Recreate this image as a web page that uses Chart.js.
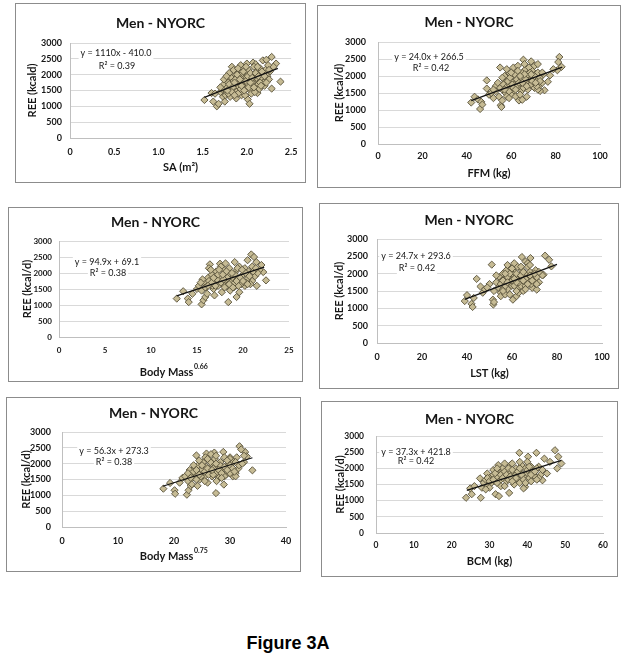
<!DOCTYPE html>
<html>
<head>
<meta charset="utf-8">
<script src="https://cdn.jsdelivr.net/npm/chart.js@4.4.1/dist/chart.umd.min.js"></script>
<style>
  body { margin: 0; background: #fff; width: 624px; height: 659px; position: relative; overflow: hidden; }
  canvas { position: absolute; }
  #fig { position: absolute; left: 0; width: 576px; top: 633px; line-height: 20px; text-align: center;
         font: bold 18px "Liberation Sans", Arial, sans-serif; color: #000; }
</style>
</head>
<body>
<canvas id="c1"></canvas>
<canvas id="c2"></canvas>
<canvas id="c3"></canvas>
<canvas id="c4"></canvas>
<canvas id="c5"></canvas>
<canvas id="c6"></canvas>
<div id="fig">Figure 3A</div>
<script>
// values: [x, REE]
const saPts = [[1.52,1200],[1.60,1420],[1.62,1150],[1.66,1000],[1.68,1080],[1.64,1400],[1.70,1450],[1.73,1300],[1.75,1150],[1.76,1620],
  [1.78,1850],[1.80,2050],[1.83,2250],[1.93,2300],[2.01,1220],[2.03,1080],[2.07,2380],[2.10,2330],[2.18,2450],[2.22,2470],
  [2.28,2560],[2.33,2350],[2.38,1780],[2.28,1560],[2.26,2100],[2.30,2250],[2.12,1420],[2.20,1650],[2.17,1800],
  [1.72,1550],[1.74,1700],[1.77,1450],[1.78,1600],[1.79,1750],[1.80,1500],[1.82,1650],[1.83,1900],[1.84,1400],[1.85,1800],
  [1.86,1550],[1.87,2000],[1.88,1700],[1.89,1480],[1.90,1850],[1.91,1600],[1.92,2100],[1.93,1750],[1.94,1350],[1.95,1950],
  [1.96,1650],[1.97,1800],[1.98,2050],[1.99,1550],[2.00,1900],[2.01,1700],[2.02,2150],[2.03,1850],[2.04,1500],[2.05,2000],
  [2.06,1650],[2.07,1800],[2.08,2250],[2.09,1950],[2.10,1600],[2.11,2100],[2.12,1850],[2.13,1700],[2.14,2000],[2.15,2200],
  [2.16,1900],[2.18,2050],[2.19,1750],[2.21,2150],[2.23,1950],[2.24,2300],[2.25,1850],[1.76,1350],[1.81,1300],[1.88,1250],
  [1.95,1450],[1.98,1350],[2.05,1400],[1.70,1600],[1.85,2150],[1.90,2200],[1.97,2200],[2.00,2350],[1.93,1550],[1.87,1850],
  [1.82,1550],[1.91,1950],[2.06,1750],[2.14,1550],[2.09,1450],[2.02,1600],[1.79,1400],[1.95,2050],[2.11,1900],
  [1.74,1850],[1.77,1950],[1.80,1700],[1.84,1600],[1.86,1750],[1.89,2000],[1.92,1850],[1.94,1650],[1.96,2100],[1.99,1800],
  [2.01,1950],[2.04,2050],[2.06,1900],[2.08,1600],[2.10,2050],[2.13,1950],[2.15,1750],[2.17,2100],[2.20,1950],[2.22,1750],
  [2.25,2150],[1.83,1450],[1.90,1400],[1.99,2250],[2.04,1750],[1.86,1350],[2.12,2250],[1.78,1500],[1.97,1500],[2.16,1650]];

const ffmPts = [[42,1220],[43.5,1390],[45,1310],[46,1030],[46.5,1240],[47,1160],[49,1870],[49,1630],[50,1450],[51,1500],
  [52,1350],[53,1700],[55,2250],[54.5,1390],[55.3,1140],[55.6,1090],[56,1280],[65.5,2480],[69,2430],[63.5,1280],
  [67,1390],[75,1580],[73,1560],[77.5,2020],[76.5,1830],[81.7,2560],[81.2,2410],[82.7,2270],[80.8,2170],[79,2200],
  [70.5,2300],[72,2350],[56,1600],[57,1800],[57.5,1500],[58,1950],[58.5,1700],[59,2100],[59.5,1600],[60,1850],
  [60.5,2000],[61,1550],[61.5,1750],[62,2150],[62.5,1900],[63,1650],[63.5,2050],[64,1800],[64.5,1550],[65,2100],
  [65.5,1950],[66,1700],[66.5,2200],[67,1850],[67.5,1600],[68,2050],[68.5,1900],[69,1750],[69.5,2150],[70,1950],
  [70.5,1650],[71,2050],[71.5,1850],[72,2100],[72.5,1700],[73,1950],[74,1800],[74.5,2050],[60,1450],[58,1400],
  [62,1400],[64,1450],[57,2000],[61,2250],[63,2300],[66,2350],[68,2250],[59,1350],[65,1300],[53,1550],
  [54,1800],[56,1950],[58,2200],[60,1650],[67,2000],[70,1850],[72,1600],[55,1650],[52,1600],
  [56.5,1750],[57.5,1650],[58.5,1850],[59.5,1950],[60.5,1750],[61.5,2050],[62.5,1700],[63.5,1800],[64.5,1950],[65.5,1650],
  [66.5,1900],[67.5,2050],[68.5,2100],[69.5,1850],[70.5,2000],[71.5,1700],[73,1850],[74,2100],[59,1550],[61,1650],
  [63,2150],[65,1800],[67,1700],[69,2050],[71,1800],[57,1600],[60,2100],[66,2050],[62,1600],[64,2000]];

const bm66Pts = [[12.8,1200],[13.5,1430],[14,1200],[14.1,1090],[14.5,1350],[15,1500],[15.5,1020],[15.7,1150],[15.9,1250],[16.4,2270],
  [16.3,2150],[17.5,2290],[18.4,1090],[19.1,2340],[19.3,1250],[19.6,1400],[20.9,2580],[21.2,2500],[21.45,2340],[22.5,1770],
  [22.2,2030],[22,2250],[21.8,2100],[20.5,2400],[20.2,1600],[21,1750],[15.2,1600],[15.5,1450],[15.8,1700],[16,1550],
  [16.2,1850],[16.4,1650],[16.6,1950],[16.8,1500],[17,1750],[17.1,2050],[17.3,1600],[17.5,1900],[17.7,1400],[17.9,2100],
  [18,1750],[18.2,1600],[18.4,1950],[18.5,2150],[18.7,1700],[18.9,1850],[19,1550],[19.2,2050],[19.4,1800],[19.6,2200],
  [19.8,1650],[20,1950],[20.2,2150],[20.4,1800],[20.6,2050],[20.8,1650],[21,2200],[21.3,1900],[21.6,2000],[16.1,1350],
  [16.9,1300],[17.6,2200],[18.1,2300],[17.2,1800],[15.6,1800],[16.5,2100],[18.6,1450],[19.5,1600],[20.3,1700],[17.8,1650],
  [19.1,1950],[21.5,1600],[16.7,1600],[18.3,1850],
  [15.4,1700],[15.9,1550],[16.3,1750],[16.6,1700],[17,1600],[17.3,1950],[17.6,1700],[17.9,1800],[18.2,2050],[18.5,1650],
  [18.8,2000],[19.1,1700],[19.4,2150],[19.7,1850],[20,1750],[20.3,2000],[20.7,1900],[21.1,2050],[16.8,1850],[17.4,2100],
  [18,1550],[18.9,1550],[19.9,2100],[20.5,1650],[16.2,1600],[17.8,1950],[19.3,1750],[21.4,2150]];

const lstPts = [[39,1210],[40,1380],[42,1130],[42.5,1040],[43,1300],[44.3,1850],[46,1630],[47,1450],[48,1550],[51,2260],
  [51.7,1110],[51.5,1250],[52,1180],[64.4,2480],[68.2,2450],[60.4,1250],[62,1350],[69,1590],[71,1540],[74,1970],
  [74.7,2520],[76.5,2400],[77.5,2210],[73.5,1950],[66,2350],[67,2300],[50,1700],[52,1500],[53,1750],[54,1600],
  [54.5,1900],[55,1450],[55.5,1800],[56,2000],[56.5,1650],[57,1850],[57.5,2100],[58,1550],[58.5,1950],[59,1750],
  [59.5,2150],[60,1650],[60.5,1900],[61,2050],[61.5,1700],[62,1850],[62.5,2200],[63,1600],[63.5,1950],[64,1800],
  [64.5,2100],[65,1700],[65.5,1900],[66,2000],[66.5,1750],[67,2200],[67.5,1850],[68,2050],[68.5,1700],[69,1950],
  [70,1800],[70.5,2100],[71,1900],[72,1750],[55,1350],[57,1400],[59,1400],[53,1950],[58,2250],[61,2300],
  [63,1450],[65,1500],[49,1600],[56,1550],[60,2000],[64,1650],[62,1500],[66,1650],
  [55,1700],[56,1800],[57,1650],[58,1900],[59,2000],[60,1800],[61,1650],[62,2000],[63,1750],[64,1950],
  [65,2050],[66,1850],[67,1700],[68,1950],[69,1800],[70,2000],[71,1700],[72,2050],[56,1500],[58,1750],
  [60,2150],[62,1750],[64,2200],[66,1550],[68,2250],[57,2000],[61,1850],[65,1800]];

const bm75Pts = [[18.1,1210],[19.3,1390],[20.1,1160],[20.2,1050],[21,1400],[21.5,1550],[22.3,1020],[22.6,1160],[23,1300],[24,2260],
  [25.8,2320],[27.2,2350],[27.5,1070],[28.9,1340],[28.8,2370],[31.7,2550],[32.7,2370],[34,1790],[33,2230],[32.5,2050],
  [31.5,1850],[30.5,1600],[32,2450],[30,2200],[22,1600],[22.5,1450],[23,1700],[23.3,1550],[23.6,1850],[24,1650],
  [24.3,1950],[24.6,1500],[25,1750],[25.2,2050],[25.5,1600],[25.8,1900],[26,1400],[26.3,2100],[26.5,1750],[26.8,1600],
  [27,1950],[27.3,2150],[27.5,1700],[27.8,1850],[28,1550],[28.3,2050],[28.6,1800],[29,2200],[29.3,1650],[29.6,1950],
  [30,2150],[30.3,1800],[30.6,2050],[31,1700],[31.2,2200],[31.6,1950],[32.2,2000],[23.2,1350],[24.2,1300],[25.6,2200],
  [26.6,2300],[25,1800],[22.8,1800],[24.5,2100],[27.6,1450],[29,1600],[30,1700],[26.2,1650],[28.2,1950],[31,1600],
  [24.8,1600],[27,1850],
  [22.5,1700],[23,1550],[23.5,1750],[24,1800],[24.5,1650],[25,1950],[25.5,1750],[26,1850],[26.5,2050],[27,1650],
  [27.5,2000],[28,1800],[28.5,1700],[29,1900],[29.5,2100],[30,1950],[30.5,1850],[31,2050],[24,1500],[25.5,1450],
  [26,2150],[27.5,2250],[28.5,1550],[29.5,1800],[23.5,1950],[26.8,1800],[30.8,1750],[32.5,2250]];

const bcmPts = [[23.8,1090],[24.9,1380],[25.3,1200],[26,1450],[27.7,1090],[27.5,1690],[28,1400],[29.4,1840],[32.3,2100],[31.6,1200],
  [32.5,1140],[35.2,1240],[37.9,2480],[39.4,1430],[39,1380],[40.2,2360],[42.4,2480],[44,1630],[45.2,1840],[47.3,2560],
  [48.2,2360],[49,2150],[47.9,2000],[46,2200],[44.5,2300],[43,2050],[28.5,1550],[29,1650],[29.5,1450],[30,1700],
  [30.5,1550],[31,1800],[31.5,1600],[32,1750],[32.5,1900],[33,1650],[33.5,2000],[34,1750],[34.5,1600],[35,1900],
  [35.5,2100],[36,1700],[36.5,1850],[37,2000],[37.5,1650],[38,1900],[38.5,2100],[39,1750],[39.5,2000],[40,1850],
  [40.5,1700],[41,2050],[41.5,1900],[42,1750],[42.5,2000],[43.5,1800],[34,2150],[36,2150],[30,1400],[33,1450],
  [36.5,1500],[38,1550],[41,1600],[37,1800],[33,1850],[35,1650],[40,2200],[31,1950],[44,1950],[29,1350],
  [29.5,1700],[30,1600],[31,1650],[31.5,1850],[32,1550],[33,1800],[33.5,1700],[34,1900],[34.5,1800],[35,2000],
  [35.5,1750],[36,1950],[37,1700],[37.5,1900],[38,2000],[38.5,1800],[39,1650],[40,1950],[40.5,2050],[41,1800],
  [42,1900],[43,1700],[34,1450],[36,1600],[38,2200],[32,2000],[39.5,1550],[42.5,1650]];

// trend line end points as drawn
const saTrend = [[1.52,1280],[2.35,2200]];
const ffmTrend = [[42,1274],[83,2258]];
const bm66Trend = [[12.8,1284],[22.3,2185]];
const lstTrend = [[39,1257],[80,2270]];
const bm75Trend = [[18,1287],[34,2187]];
const bcmTrend = [[24,1317],[49,2249]];

const equations = [
  ['y = 1110x - 410.0', 'R² = 0.39'],
  ['y = 24.0x + 266.5', 'R² = 0.42'],
  ['y = 94.9x + 69.1', 'R² = 0.38'],
  ['y = 24.7x + 293.6', 'R² = 0.42'],
  ['y = 56.3x + 273.3', 'R² = 0.38'],
  ['y = 37.3x + 421.8', 'R² = 0.42']
];
const xTitles = [['SA (m²)', ''], ['FFM (kg)', ''], ['Body Mass', '0.66'], ['LST (kg)', ''], ['Body Mass', '0.75'], ['BCM (kg)', '']];
const yTitles = ['REE (kcald)', 'REE (kcal/d)', 'REE (kcal/d)', 'REE (kcal/d)', 'REE (kcal/d)', 'REE (kcal/d)'];
const xMax = [2.5, 100, 25, 100, 40, 60];
const xStep = [0.5, 20, 5, 20, 10, 10];
const yTicks = [0, 500, 1000, 1500, 2000, 2500, 3000];

const allPts = [saPts, ffmPts, bm66Pts, lstPts, bm75Pts, bcmPts];
const allTrends = [saTrend, ffmTrend, bm66Trend, lstTrend, bm75Trend, bcmTrend];

// panel boxes and inner geometry (pixels)
const boxes = [
  {left: 15, top: 3, w: 291, h: 180, plot: [55, 40, 278, 135], titleY: 20, yTitleX: 17, xTickY: 149, xTitleY: 164, yPad: 8, tickFs: 9, eqPos: [[46, 10], [47, 23]]},
  {left: 317, top: 5, w: 304, h: 183, plot: [61, 37, 283, 139], titleY: 17, yTitleX: 22, xTickY: 151, xTitleY: 168, yPad: 12, tickFs: 9, eqPos: [[51, 15], [53, 26]]},
  {left: 8, top: 207, w: 295, h: 175, plot: [51, 34, 281, 130], titleY: 15, yTitleX: 19, xTickY: 143, xTitleY: 165, yPad: 7, tickFs: 8, eqPos: [[48, 21], [49, 32]]},
  {left: 319, top: 203, w: 300, h: 186, plot: [58, 36, 283, 140], titleY: 17, yTitleX: 20, xTickY: 154, xTitleY: 170, yPad: 9, tickFs: 9, eqPos: [[39, 17], [40, 29]]},
  {left: 6, top: 397, w: 295, h: 175, plot: [56, 35, 280, 130], titleY: 16, yTitleX: 20, xTickY: 144, xTitleY: 159, yPad: 11, tickFs: 9, eqPos: [[52, 19], [52, 30]]},
  {left: 321, top: 401, w: 297, h: 176, plot: [55, 35, 282, 132], titleY: 18, yTitleX: 19, xTickY: 144, xTitleY: 160, yPad: 12, tickFs: 8.5, eqPos: [[40, 16], [40, 25]]}
];

const FONT = 'Lato, "Open Sans", sans-serif';
const TEXT = '#161616';

const panelDeco = {
  id: 'panelDeco',
  beforeDraw(chart) {
    const ctx = chart.ctx;
    ctx.save();
    ctx.fillStyle = '#fff';
    ctx.fillRect(0, 0, chart.width, chart.height);
    ctx.restore();
  },
  afterDraw(chart, args, o) {
    const {ctx, chartArea} = chart;
    ctx.save();
    ctx.fillStyle = TEXT;
    ctx.textBaseline = 'middle';
    // panel title, centred on the frame
    ctx.textAlign = 'center';
    ctx.font = 'bold 14px ' + FONT;
    ctx.fillText('Men - NYORC', chart.width / 2, o.titleY);
    // regression equation
    ctx.font = '9px ' + FONT;
    o.eq.forEach(function(line, i) {
      const x = chartArea.left + o.eqPos[i][0];
      const y = chartArea.top + o.eqPos[i][1];
      const w = ctx.measureText(line).width;
      ctx.fillStyle = '#fff';
      ctx.fillRect(x - w / 2 - 2, y - 6, w + 4, 12);
      ctx.fillStyle = TEXT;
      ctx.fillText(line, x, y);
    });
    // x title with superscript
    if (o.sup) {
      ctx.textAlign = 'left';
      ctx.font = 'bold 11px ' + FONT;
      const w1 = ctx.measureText(o.xTitle).width;
      ctx.font = 'bold 7px ' + FONT;
      const w2 = ctx.measureText(o.sup).width;
      const x0 = (chartArea.left + chartArea.right) / 2 - (w1 + w2 + 1) / 2;
      ctx.font = 'bold 11px ' + FONT;
      ctx.fillText(o.xTitle, x0, o.xTitleY);
      ctx.font = 'bold 7px ' + FONT;
      ctx.fillText(o.sup, x0 + w1 + 0.5, o.xTitleY - 5);
    }
    // panel frame
    ctx.strokeStyle = '#8c8c8c';
    ctx.lineWidth = 1;
    ctx.strokeRect(0.5, 0.5, chart.width - 1, chart.height - 1);
    ctx.restore();
  }
};

boxes.forEach(function(b, i) {
  const cv = document.getElementById('c' + (i + 1));
  cv.width = b.w;
  cv.height = b.h;
  cv.style.left = b.left + 'px';
  cv.style.top = b.top + 'px';

  const [L, T, R, B] = b.plot;
  const tickLh = b.tickFs * 1.2;
  const sup = xTitles[i][1];

  new Chart(cv.getContext('2d'), {
    type: 'scatter',
    data: {
      datasets: [
        {
          data: allTrends[i].map(p => ({x: p[0], y: p[1]})),
          showLine: true,
          borderColor: '#111',
          borderWidth: 1.3,
          pointRadius: 0
        },
        {
          data: allPts[i].map(p => ({x: p[0], y: p[1]})),
          pointStyle: 'rectRot',
          pointRadius: 3.6,
          backgroundColor: '#c6bb94',
          borderColor: '#575039',
          borderWidth: 0.9
        }
      ]
    },
    options: {
      responsive: false,
      animation: false,
      layout: { padding: { left: 0, top: T, right: b.w - R, bottom: 0 } },
      plugins: {
        legend: { display: false },
        tooltip: { enabled: false },
        title: { display: false },
        panelDeco: { eq: equations[i], eqPos: b.eqPos, sup: sup, xTitle: xTitles[i][0], xTitleY: b.xTitleY, titleY: b.titleY }
      },
      scales: {
        x: {
          type: 'linear',
          min: 0,
          max: xMax[i],
          ticks: { stepSize: xStep[i], padding: b.xTickY - B - tickLh / 2, color: TEXT,
                   font: { family: FONT, size: b.tickFs, weight: 'bold' } },
          grid: { display: false, drawTicks: false },
          border: { display: true, color: '#bfbfbf' },
          title: {
            display: !sup,
            text: xTitles[i][0],
            color: TEXT,
            font: { family: FONT, size: 11, weight: 'bold', lineHeight: 1 },
            padding: { top: 0, bottom: b.h - b.xTitleY - 5.5 }
          },
          afterFit(s) { s.height = b.h - B; }
        },
        y: {
          min: 0,
          max: 3000,
          afterBuildTicks(s) { s.ticks = yTicks.map(v => ({value: v})); },
          ticks: { padding: b.yPad, color: TEXT, callback: v => String(v),
                   font: { family: FONT, size: b.tickFs, weight: 'bold' } },
          grid: { color: '#d9d9d9', drawTicks: false },
          border: { display: true, color: '#bfbfbf' },
          title: {
            display: true,
            text: yTitles[i],
            color: TEXT,
            font: { family: FONT, size: 11, weight: 'bold', lineHeight: 1 },
            padding: { top: b.yTitleX - 5.5, bottom: 0 }
          },
          afterFit(s) { s.width = L; }
        }
      }
    },
    plugins: [panelDeco]
  });
});
</script>
</body>
</html>
